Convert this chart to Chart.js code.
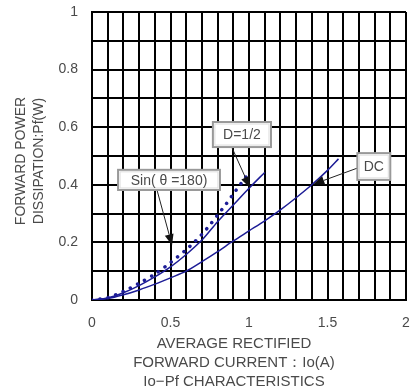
<!DOCTYPE html>
<html>
<head>
<meta charset="utf-8">
<script src="https://cdn.jsdelivr.net/npm/chart.js@4/dist/chart.umd.min.js"></script>
<style>
html,body{margin:0;padding:0;background:#fff;}
#wrap{width:420px;height:392px;position:relative;}
</style>
</head>
<body>
<div id="wrap"><canvas id="c" width="420" height="392"></canvas></div>
<script>
// ---- data ----
const sinX = [0, 0.1, 0.2, 0.3, 0.4, 0.5, 0.6, 0.65, 0.7, 0.75, 0.8, 0.85, 0.9, 0.95, 1.0];
const sinY = [0, 0.008, 0.03, 0.058, 0.09, 0.13, 0.175, 0.2, 0.228, 0.26, 0.295, 0.33, 0.368, 0.405, 0.442];

const halfX = [0, 0.1, 0.2, 0.3, 0.4, 0.5, 0.6, 0.7, 0.8, 0.9, 1.0, 1.1];
const halfY = [0, 0.007, 0.025, 0.05, 0.08, 0.115, 0.158, 0.208, 0.272, 0.33, 0.388, 0.443];

const dcX = [0, 0.1, 0.2, 0.3, 0.4, 0.5, 0.6, 0.7, 0.8, 0.9, 1.0, 1.1, 1.2, 1.3, 1.4, 1.5, 1.57];
const dcY = [0, 0.005, 0.018, 0.035, 0.055, 0.077, 0.1, 0.133, 0.168, 0.205, 0.24, 0.275, 0.313, 0.355, 0.4, 0.45, 0.49];

const xTickLabels = ['0', '0.5', '1', '1.5', '2'];
const yTickLabels = ['0', '0.2', '0.4', '0.6', '0.8', '1'];

const seriesNames = ['Sin( θ =180)', 'D=1/2', 'DC'];
const xTitleLines = ['AVERAGE RECTIFIED', 'FORWARD CURRENT：Io(A)', 'Io−Pf CHARACTERISTICS'];
const yTitleLines = ['FORWARD POWER', 'DISSIPATION:Pf(W)'];

// annotation boxes and arrows (data coordinates)
const notes = [
  {text: seriesNames[0], box: [0.166, 0.452, 0.815, 0.382], from: [0.414, 0.382], to: [0.51, 0.19]},
  {text: seriesNames[1], box: [0.77, 0.618, 1.14, 0.531], from: [0.89, 0.531], to: [1.006, 0.39]},
  {text: seriesNames[2], box: [1.69, 0.51, 1.9, 0.417], from: [1.69, 0.458], to: [1.41, 0.402]}
];

const pts = (xs, ys) => xs.map((x, i) => ({x: x, y: ys[i]}));

const BLUE = 'rgb(28,28,150)';
const TEXT = '#4a4a4a';
const FONT = "'Liberation Sans', Arial, sans-serif";

const notePlugin = {
  id: 'notes',
  afterDatasetsDraw(chart) {
    const ctx = chart.ctx;
    const xs = chart.scales.x, ys = chart.scales.y;
    ctx.save();
    notes.forEach(n => {
      const x1 = xs.getPixelForValue(n.box[0]), y1 = ys.getPixelForValue(n.box[1]);
      const x2 = xs.getPixelForValue(n.box[2]), y2 = ys.getPixelForValue(n.box[3]);
      const fx = xs.getPixelForValue(n.from[0]), fy = ys.getPixelForValue(n.from[1]);
      const tx = xs.getPixelForValue(n.to[0]), ty = ys.getPixelForValue(n.to[1]);
      const ang = Math.atan2(ty - fy, tx - fx);
      const hl = 11, hw = 4.5;
      const bx = tx - hl * Math.cos(ang), by = ty - hl * Math.sin(ang);
      ctx.strokeStyle = '#222';
      ctx.lineWidth = 1;
      ctx.beginPath(); ctx.moveTo(fx, fy); ctx.lineTo(bx, by); ctx.stroke();
      ctx.fillStyle = '#111';
      ctx.beginPath();
      ctx.moveTo(tx, ty);
      ctx.lineTo(bx + hw * Math.sin(ang), by - hw * Math.cos(ang));
      ctx.lineTo(bx - hw * Math.sin(ang), by + hw * Math.cos(ang));
      ctx.closePath(); ctx.fill();
      ctx.fillStyle = '#fff';
      ctx.fillRect(x1, y1, x2 - x1, y2 - y1);
      ctx.strokeStyle = '#999';
      ctx.lineWidth = 2;
      ctx.strokeRect(x1, y1, x2 - x1, y2 - y1);
      ctx.strokeStyle = '#ddd';
      ctx.lineWidth = 1;
      ctx.strokeRect(x1 + 2, y1 + 2, x2 - x1 - 4, y2 - y1 - 4);
      ctx.fillStyle = TEXT;
      ctx.font = '14px ' + FONT;
      ctx.textAlign = 'center';
      ctx.textBaseline = 'middle';
      ctx.fillText(n.text, (x1 + x2) / 2, (y1 + y2) / 2 + 1);
    });
    ctx.restore();
  }
};

const titlePlugin = {
  id: 'axisTitles',
  afterDraw(chart) {
    const ctx = chart.ctx;
    const a = chart.chartArea;
    ctx.save();
    ctx.fillStyle = TEXT;
    ctx.textAlign = 'center';
    ctx.textBaseline = 'middle';
    ctx.font = '15px ' + FONT;
    const cx = (a.left + a.right) / 2 - 15;
    xTitleLines.forEach((t, i) => ctx.fillText(t, cx, a.bottom + 44 + i * 19));
    ctx.font = '14px ' + FONT;
    const cy = (a.top + a.bottom) / 2 + 5;
    yTitleLines.forEach((t, i) => {
      ctx.save();
      ctx.translate(21 + i * 18, cy);
      ctx.rotate(-Math.PI / 2);
      ctx.fillText(t, 0, 0);
      ctx.restore();
    });
    ctx.restore();
  }
};

new Chart(document.getElementById('c'), {
  type: 'scatter',
  data: {
    datasets: [
      {label: seriesNames[0], data: pts(sinX, sinY), showLine: true, borderColor: BLUE,
       borderWidth: 3.5, borderDash: [0.1, 8], borderCapStyle: 'round', pointRadius: 0, tension: 0.3, fill: false},
      {label: seriesNames[1], data: pts(halfX, halfY), showLine: true, borderColor: BLUE,
       borderWidth: 1.5, pointRadius: 0, tension: 0.3, fill: false},
      {label: seriesNames[2], data: pts(dcX, dcY), showLine: true, borderColor: BLUE,
       borderWidth: 1.5, pointRadius: 0, tension: 0.3, fill: false}
    ]
  },
  options: {
    responsive: false,
    animation: false,
    devicePixelRatio: 1,
    layout: {padding: {left: 0, right: 14, top: 12, bottom: 0}},
    plugins: {legend: {display: false}, tooltip: {enabled: false}},
    scales: {
      x: {
        type: 'linear', min: 0, max: 2,
        afterFit(s) { s.height = 92; s.paddingLeft = 0; s.paddingRight = 0; },
        grid: {color: '#000', lineWidth: 2, drawTicks: false},
        border: {color: '#000', width: 2},
        ticks: {
          stepSize: 0.1, autoSkip: false, maxRotation: 0, padding: 15,
          color: TEXT, font: {family: FONT, size: 14},
          callback: v => { const k = Math.round(v * 10); return k % 5 === 0 ? xTickLabels[k / 5] : ''; }
        },
        title: {display: false}
      },
      y: {
        type: 'linear', min: 0, max: 1,
        afterFit(s) { s.width = 92; s.paddingTop = 0; s.paddingBottom = 0; },
        grid: {color: '#000', lineWidth: 2, drawTicks: false},
        border: {color: '#000', width: 2},
        ticks: {
          stepSize: 0.1, autoSkip: false, padding: 14,
          color: TEXT, font: {family: FONT, size: 14},
          callback: v => { const k = Math.round(v * 10); return k % 2 === 0 ? yTickLabels[k / 2] : ''; }
        },
        title: {display: false}
      }
    }
  },
  plugins: [notePlugin, titlePlugin]
});
</script>
</body>
</html>
